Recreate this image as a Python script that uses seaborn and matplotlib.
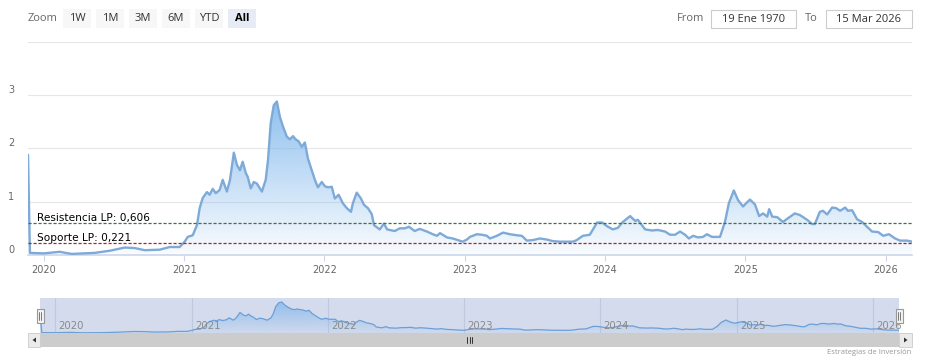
import numpy as np
import pandas as pd
import matplotlib
matplotlib.use("Agg")
import matplotlib.pyplot as plt
import matplotlib.dates as mdates
import matplotlib.transforms as mtransforms
from matplotlib.patches import Rectangle, Polygon
from matplotlib.colors import to_rgb
import seaborn as sns

# Datos
fechas = [
    "2019-11-21", "2019-11-26", "2020-01-01", "2020-02-11", "2020-03-14", "2020-05-13",
    "2020-06-21", "2020-07-30", "2020-08-25", "2020-09-20", "2020-10-29", "2020-11-24",
    "2020-12-20", "2021-01-02", "2021-01-10", "2021-01-23", "2021-02-03", "2021-02-10",
    "2021-02-18", "2021-03-01", "2021-03-08", "2021-03-16", "2021-03-24", "2021-04-03",
    "2021-04-11", "2021-04-22", "2021-04-30", "2021-05-10", "2021-05-18", "2021-05-26",
    "2021-06-02", "2021-06-10", "2021-06-15", "2021-06-23", "2021-07-01", "2021-07-09",
    "2021-07-22", "2021-08-01", "2021-08-07", "2021-08-14", "2021-08-22", "2021-08-30",
    "2021-09-07", "2021-09-15", "2021-09-25", "2021-10-03", "2021-10-11", "2021-10-18",
    "2021-10-26", "2021-11-03", "2021-11-11", "2021-11-19", "2021-11-29", "2021-12-07",
    "2021-12-15", "2021-12-25", "2022-01-02", "2022-01-10", "2022-01-20", "2022-01-28",
    "2022-02-07", "2022-02-18", "2022-02-28", "2022-03-11", "2022-03-16", "2022-03-26",
    "2022-04-06", "2022-04-14", "2022-04-24", "2022-05-04", "2022-05-10", "2022-05-25",
    "2022-06-05", "2022-06-13", "2022-07-03", "2022-07-16", "2022-07-29", "2022-08-09",
    "2022-08-24", "2022-09-06", "2022-09-25", "2022-10-10", "2022-10-21", "2022-10-29",
    "2022-11-16", "2022-12-01", "2022-12-14", "2022-12-27", "2023-01-07", "2023-01-15",
    "2023-02-02", "2023-02-15", "2023-02-28", "2023-03-08", "2023-03-26", "2023-04-11",
    "2023-04-29", "2023-05-17", "2023-05-30", "2023-06-12", "2023-06-28", "2023-07-16",
    "2023-08-03", "2023-08-19", "2023-09-06", "2023-09-24", "2023-10-10", "2023-10-20",
    "2023-11-05", "2023-11-23", "2023-12-12", "2023-12-25", "2024-01-07", "2024-01-22",
    "2024-02-04", "2024-02-17", "2024-03-07", "2024-03-20", "2024-03-27", "2024-04-15",
    "2024-05-03", "2024-05-18", "2024-06-06", "2024-06-19", "2024-07-02", "2024-07-15",
    "2024-07-28", "2024-08-07", "2024-08-18", "2024-08-31", "2024-09-13", "2024-09-23",
    "2024-10-06", "2024-10-27", "2024-11-09", "2024-11-19", "2024-12-02", "2024-12-13",
    "2024-12-26", "2025-01-03", "2025-01-13", "2025-01-26", "2025-02-06", "2025-02-16",
    "2025-02-27", "2025-03-04", "2025-03-12", "2025-03-25", "2025-04-09", "2025-04-22",
    "2025-05-10", "2025-05-23", "2025-06-11", "2025-06-24", "2025-07-01", "2025-07-14",
    "2025-07-22", "2025-08-02", "2025-08-15", "2025-08-25", "2025-09-05", "2025-09-18",
    "2025-09-25", "2025-10-06", "2025-10-19", "2025-11-01", "2025-11-14", "2025-11-27",
    "2025-12-13", "2025-12-26", "2026-01-10", "2026-01-26", "2026-02-08", "2026-02-26",
    "2026-03-11",
]
valores = [
    1.88, 0.04, 0.03, 0.06, 0.02, 0.04,
    0.08, 0.14, 0.13, 0.09, 0.10, 0.15,
    0.15, 0.25, 0.34, 0.37, 0.56, 0.88,
    1.07, 1.18, 1.13, 1.24, 1.16, 1.22,
    1.41, 1.19, 1.41, 1.92, 1.69, 1.59,
    1.75, 1.54, 1.47, 1.25, 1.37, 1.34,
    1.19, 1.41, 1.78, 2.47, 2.81, 2.88,
    2.59, 2.41, 2.22, 2.17, 2.23, 2.17,
    2.13, 2.03, 2.11, 1.81, 1.59, 1.41,
    1.27, 1.37, 1.29, 1.27, 1.28, 1.06,
    1.13, 0.97, 0.88, 0.81, 0.97, 1.17,
    1.06, 0.94, 0.88, 0.77, 0.56, 0.48,
    0.59, 0.48, 0.45, 0.50, 0.50, 0.53,
    0.45, 0.49, 0.44, 0.39, 0.36, 0.41,
    0.33, 0.31, 0.28, 0.25, 0.29, 0.34,
    0.39, 0.38, 0.36, 0.31, 0.36, 0.42,
    0.39, 0.37, 0.36, 0.27, 0.28, 0.31,
    0.29, 0.26, 0.25, 0.25, 0.25, 0.28,
    0.36, 0.38, 0.61, 0.61, 0.54, 0.48,
    0.51, 0.62, 0.73, 0.64, 0.66, 0.48,
    0.46, 0.47, 0.44, 0.38, 0.38, 0.44,
    0.38, 0.31, 0.36, 0.33, 0.34, 0.39,
    0.34, 0.34, 0.62, 0.97, 1.21, 1.03,
    0.91, 0.97, 1.04, 0.95, 0.73, 0.78,
    0.72, 0.86, 0.72, 0.71, 0.62, 0.69,
    0.78, 0.75, 0.66, 0.58, 0.58, 0.81,
    0.83, 0.76, 0.89, 0.88, 0.83, 0.89,
    0.83, 0.84, 0.67, 0.62, 0.53, 0.44,
    0.43, 0.36, 0.39, 0.31, 0.27, 0.27,
    0.25,
]
resistencia = 0.606
soporte = 0.221
ticks_y = [0, 1, 2, 3, 4]
etiquetas_y = ["0", "1", "2", "3", ""]
anios = [2020, 2021, 2022, 2023, 2024, 2025, 2026]
botones = ["1W", "1M", "3M", "6M", "YTD", "All"]
boton_activo = "All"
fecha_desde = "19 Ene 1970"
fecha_hasta = "15 Mar 2026"
creditos = "Estrategias de Inversión"

W, H = 927, 361
sns.set_style("white")
plt.rcParams['font.family'] = ['DejaVu Sans']

AZUL = '#7cb5ec'
LINEA = '#7eaad8'
GRIS_TXT = '#666666'

df = pd.DataFrame({'Fecha': pd.to_datetime(fechas), 'Valor': valores})


def caja(x0, y0, x1, y1):
    """Rectangulo en pixeles -> coordenadas de figura"""
    return [x0 / W, 1 - y1 / H, (x1 - x0) / W, (y1 - y0) / H]


def relleno_degradado(ax, data, color, a_top, a_bot):
    x = mdates.date2num(data['Fecha'])
    y = data['Valor'].values
    poly = ax.fill_between(x, y, 0, facecolor='none', edgecolor='none')
    grad = np.zeros((256, 1, 4))
    grad[..., :3] = to_rgb(color)
    grad[..., 3] = np.linspace(a_bot, a_top, 256)[:, None]
    im = ax.imshow(grad, aspect='auto', origin='lower', interpolation='bilinear',
                   extent=[x.min(), x.max(), 0, y.max()], zorder=1)
    im.set_clip_path(poly.get_paths()[0], transform=ax.transData)


def rect_fig(x0, y0, x1, y1, fc, ec='none', lw=0.8, z=1):
    r = Rectangle((x0 / W, 1 - y1 / H), (x1 - x0) / W, (y1 - y0) / H,
                  transform=fig.transFigure, facecolor=fc, edgecolor=ec,
                  linewidth=lw, zorder=z)
    fig.add_artist(r)


fig = plt.figure(figsize=(W / 100, H / 100), dpi=100)

# ---- grafico principal ----
ax = fig.add_axes(caja(28, 41.8, 912, 255))
sns.lineplot(x='Fecha', y='Valor', data=df, ax=ax, color=LINEA, linewidth=1.7, zorder=4)
relleno_degradado(ax, df, AZUL, 0.85, 0.04)
ax.set_xlim(df['Fecha'].min(), df['Fecha'].max())
ax.set_ylim(0, 4)
ax.set_xlabel('')
ax.set_ylabel('')

for s in ['top', 'left', 'right']:
    ax.spines[s].set_visible(False)
ax.spines['bottom'].set_color('#ccd6eb')
ax.spines['bottom'].set_linewidth(1.2)

ax.set_yticks(ticks_y)
ax.set_yticklabels(etiquetas_y)
ax.tick_params(axis='y', length=0, pad=14.4, labelsize=7, labelcolor=GRIS_TXT)
for lbl in ax.get_yticklabels():
    lbl.set_ha('left')
    lbl.set_va('bottom')
ax.grid(axis='y', color='#e6e6e6', linewidth=0.8)
ax.grid(axis='x', visible=False)

ax.xaxis.set_major_locator(mdates.YearLocator())
ax.xaxis.set_major_formatter(mdates.DateFormatter('%Y'))
ax.tick_params(axis='x', bottom=True, length=4, width=0.8, color='#ccd6eb',
               pad=3, labelsize=7, labelcolor=GRIS_TXT)

ax.axhline(resistencia, color='#2e7d32', linewidth=0.9, linestyle=(0, (2.5, 1.5)), zorder=5)
ax.axhline(soporte, color='#a3262a', linewidth=0.9, linestyle=(0, (2.5, 1.5)), zorder=5)
ax.text(0.0102, resistencia, f"Resistencia LP: {resistencia:.3f}".replace('.', ','),
        transform=ax.get_yaxis_transform(), fontsize=7.6, color='black',
        ha='left', va='bottom', zorder=6)
ax.text(0.0102, soporte, f"Soporte LP: {soporte:.3f}".replace('.', ','),
        transform=ax.get_yaxis_transform(), fontsize=7.6, color='black',
        ha='left', va='bottom', zorder=6)

# ---- navegador ----
nav = fig.add_axes(caja(40, 298, 899, 333))
nav.set_facecolor('#d3dbed')
sns.lineplot(x='Fecha', y='Valor', data=df, ax=nav, color='#6c9fd8', linewidth=0.9, zorder=4)
relleno_degradado(nav, df, AZUL, 0.75, 0.05)
nav.set_xlim(df['Fecha'].min(), df['Fecha'].max())
nav.set_ylim(0, 3.25)
nav.set_xlabel('')
nav.set_ylabel('')
for s in nav.spines.values():
    s.set_visible(False)
nav.set_yticks([])
nav.xaxis.set_major_locator(mdates.YearLocator())
nav.tick_params(axis='x', length=0, labelbottom=False)
nav.grid(axis='x', color='#bfc8dd', linewidth=0.8)
nav.grid(axis='y', visible=False)
off = mtransforms.offset_copy(nav.get_xaxis_transform(), fig=fig, x=3, y=0, units='dots')
for a in anios:
    nav.text(pd.Timestamp(f"{a}-01-01"), 0.2, str(a), transform=off, fontsize=7.3,
             color='#8a8a8a', ha='left', va='center', zorder=6)

# asas del navegador
for hx in [40, 899]:
    rect_fig(hx - 3.5, 309, hx + 3.5, 323, '#f2f2f2', '#999999', 0.8, z=10)
    for lx in [hx - 1, hx + 1]:
        fig.add_artist(plt.Line2D([lx / W, lx / W], [1 - 312 / H, 1 - 320 / H],
                                  transform=fig.transFigure, color='#666666',
                                  linewidth=0.6, zorder=11))

# barra de desplazamiento
rect_fig(28, 333, 912, 347, '#f2f2f2')
rect_fig(40, 333, 899, 347, '#cccccc', z=2)
rect_fig(28, 333, 40, 347, '#ebebeb', '#cccccc', 0.6, z=3)
rect_fig(899, 333, 912, 347, '#ebebeb', '#cccccc', 0.6, z=3)
for pts in [[(32.5, 340), (36, 337.5), (36, 342.5)], [(907.5, 340), (904, 337.5), (904, 342.5)]]:
    fig.add_artist(Polygon([(px / W, 1 - py / H) for px, py in pts], closed=True,
                           transform=fig.transFigure, facecolor='#333333',
                           edgecolor='none', zorder=4))
for gx in [467, 469.5, 472]:
    fig.add_artist(plt.Line2D([gx / W, gx / W], [1 - 337 / H, 1 - 343 / H],
                              transform=fig.transFigure, color='#333333',
                              linewidth=0.7, zorder=4))

# ---- selector de rango ----
fig.text(28 / W, 1 - 18.5 / H, "Zoom", fontsize=8, color=GRIS_TXT,
         ha='left', va='center', family=['Open Sans', 'DejaVu Sans'])
for i, b in enumerate(botones):
    x0 = 63 + 33 * i
    activo = (b == boton_activo)
    rect_fig(x0, 9, x0 + 28, 28, '#e6ebf5' if activo else '#f7f7f7')
    fig.text((x0 + 14) / W, 1 - 18.5 / H, b, fontsize=8, color='#333333' if not activo else '#000000',
             fontweight='bold' if activo else 'normal', ha='center', va='center',
             family=['Open Sans', 'DejaVu Sans'])

fig.text(704 / W, 1 - 18.5 / H, "From", fontsize=8, color=GRIS_TXT, ha='right',
         va='center', family=['Open Sans', 'DejaVu Sans'])
fig.text(818 / W, 1 - 18.5 / H, "To", fontsize=8, color=GRIS_TXT, ha='right',
         va='center', family=['Open Sans', 'DejaVu Sans'])
for (x0, x1), t in zip([(711, 796), (826, 912)], [fecha_desde, fecha_hasta]):
    rect_fig(x0, 10, x1, 28, 'white', '#cccccc', 0.8)
    fig.text((x0 + x1) / 2 / W, 1 - 19 / H, t, fontsize=8, color='#333333',
             ha='center', va='center', family=['Open Sans', 'DejaVu Sans'])

fig.text(911 / W, 1 - 352 / H, creditos, fontsize=5.5, color='#999999',
         ha='right', va='center', family=['Open Sans', 'DejaVu Sans'])

fig.savefig('out.png', dpi=100)
